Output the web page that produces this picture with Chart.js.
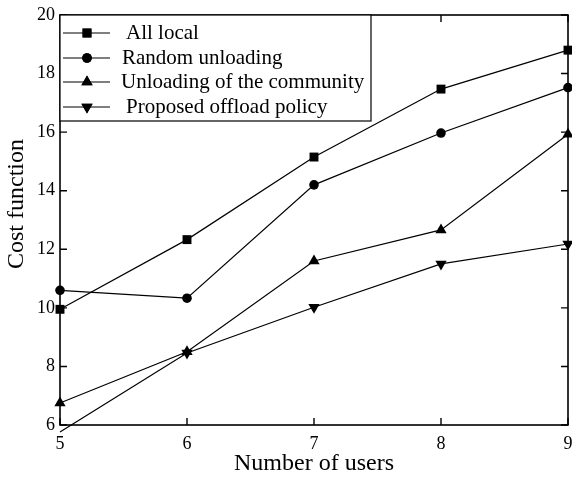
<!DOCTYPE html>
<html><head><meta charset="utf-8">
<script src="https://cdn.jsdelivr.net/npm/chart.js@4/dist/chart.umd.min.js"></script>
<style>html,body{margin:0;padding:0;background:#fff}#w{width:572px;height:478px}</style>
</head><body><div id="w"><canvas id="c"></canvas></div>
<script>
const users = [5, 6, 7, 8, 9];
const allLocal = [9.95, 12.33, 15.15, 17.47, 18.8];
const randomUnloading = [10.6, 10.33, 14.2, 15.97, 17.52];
const community = [6.75, 8.5, 11.6, 12.66, 15.93];
const proposed = [5.76, 8.46, 10.02, 11.5, 12.18];
const seriesNames = ['All local', 'Random unloading', 'Unloading of the community', 'Proposed offload policy'];
const xTicks = [5, 6, 7, 8, 9];
const yTicks = [6, 8, 10, 12, 14, 16, 18, 20];
const xTitle = 'Number of users';
const yTitle = 'Cost function';
const FONT = '"Liberation Serif", "Times New Roman", serif';

const mk = (arr) => users.map((u, i) => ({x: u, y: arr[i]}));
const styles = [
  {pointStyle: 'rect', pointRadius: 6.3, rotation: 0},
  {pointStyle: 'circle', pointRadius: 4.8, rotation: 0},
  {pointStyle: 'triangle', pointRadius: 6.5, rotation: 0},
  {pointStyle: 'triangle', pointRadius: 6.5, rotation: 180}
];
const datasets = [allLocal, randomUnloading, community, proposed].map((d, i) => ({
  label: seriesNames[i], data: mk(d),
  borderColor: '#000', backgroundColor: '#000', borderWidth: 1.2,
  pointStyle: styles[i].pointStyle, pointRadius: styles[i].pointRadius,
  pointRotation: styles[i].rotation, pointBorderWidth: 0,
  pointBackgroundColor: '#000', tension: 0, clip: false
}));

const framePlugin = {
  id: 'frame',
  afterDraw(chart) {
    const {ctx, chartArea: a, scales: {x, y}} = chart;
    ctx.save();
    ctx.strokeStyle = '#000';
    ctx.lineWidth = 1.6;
    ctx.strokeRect(a.left, a.top, a.right - a.left, a.bottom - a.top);
    ctx.lineWidth = 1.4;
    const L = 7;
    ctx.beginPath();
    xTicks.forEach(v => {
      const px = x.getPixelForValue(v);
      ctx.moveTo(px, a.bottom); ctx.lineTo(px, a.bottom - L);
      ctx.moveTo(px, a.top); ctx.lineTo(px, a.top + L);
    });
    yTicks.forEach(v => {
      const py = y.getPixelForValue(v);
      ctx.moveTo(a.left, py); ctx.lineTo(a.left + L, py);
      ctx.moveTo(a.right, py); ctx.lineTo(a.right - L, py);
    });
    ctx.stroke();
    // y title
    ctx.save();
    ctx.fillStyle = '#000';
    ctx.font = '24px ' + FONT;
    ctx.textAlign = 'center'; ctx.textBaseline = 'middle';
    ctx.translate(17, 204);
    ctx.rotate(-Math.PI / 2);
    ctx.fillText(yTitle, 0, 0);
    ctx.restore();
    // legend
    const lx = a.left, ly = a.top, lw = 311, lh = 106;
    ctx.fillStyle = '#fff';
    ctx.fillRect(lx, ly, lw, lh);
    ctx.lineWidth = 1.2;
    ctx.strokeRect(lx, ly, lw, lh);
    const rows = [33, 58, 82, 107];
    const textX = [126, 122, 121, 126];
    ctx.font = '21px ' + FONT;
    ctx.textBaseline = 'middle';
    ctx.textAlign = 'left';
    rows.forEach((ry, i) => {
      ctx.strokeStyle = '#000'; ctx.lineWidth = 1.2;
      ctx.beginPath(); ctx.moveTo(63, ry); ctx.lineTo(110, ry); ctx.stroke();
      ctx.fillStyle = '#000';
      Chart.helpers.drawPoint(ctx, {pointStyle: styles[i].pointStyle, rotation: styles[i].rotation, radius: styles[i].pointRadius, borderWidth: 0}, 87, ry);
      ctx.fill();
      ctx.fillText(seriesNames[i], textX[i], ry);
    });
    ctx.restore();
  }
};

const noPad = () => ({left: 0, top: 0, right: 0, bottom: 0});

new Chart(document.getElementById('c'), {
  type: 'line',
  data: {datasets},
  options: {
    responsive: true, maintainAspectRatio: false, animation: false,
    layout: {autoPadding: false, padding: {top: 15, right: 4, left: 0, bottom: 0}},
    plugins: {legend: {display: false}, tooltip: {enabled: false}},
    scales: {
      x: {
        type: 'linear', min: 5, max: 9,
        afterBuildTicks: (s) => { s.ticks = xTicks.map(v => ({value: v})); },
        grid: {display: false, drawTicks: false},
        border: {display: false},
        ticks: {color: '#000', font: {family: FONT, size: 18}, padding: 8},
        title: {display: true, text: xTitle, color: '#000', font: {family: FONT, size: 24}, padding: {top: 3, bottom: 0}},
        afterFit: (s) => { s.height = 53; s.paddingRight = 0; s.paddingLeft = 0; s.getPadding = noPad; }
      },
      y: {
        min: 6, max: 20,
        afterBuildTicks: (s) => { s.ticks = yTicks.map(v => ({value: v})); },
        grid: {display: false, drawTicks: false},
        border: {display: false},
        ticks: {color: '#000', font: {family: FONT, size: 18}, padding: 5},
        title: {display: false},
        afterFit: (s) => { s.width = 60; s.paddingTop = 0; s.paddingBottom = 0; s.getPadding = noPad; }
      }
    }
  },
  plugins: [framePlugin]
});
</script>
</body></html>
